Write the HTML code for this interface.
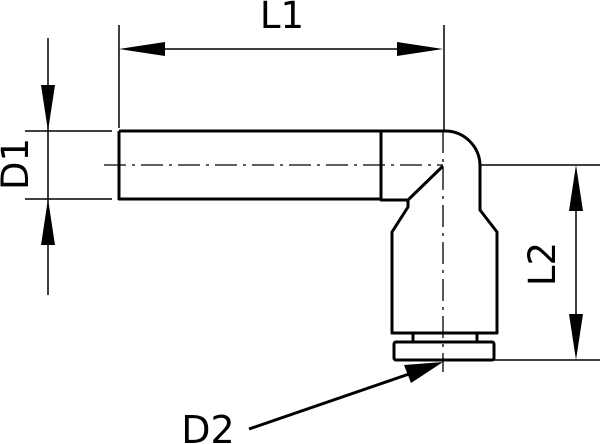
<!DOCTYPE html>
<html><head><style>
html,body{margin:0;padding:0;background:#fff;}
svg{display:block;}
text{font-family:"DejaVu Sans","Liberation Sans",sans-serif;fill:#000;}
</style></head><body>
<svg width="600" height="444" viewBox="0 0 600 444" xmlns="http://www.w3.org/2000/svg">
<g fill="none" stroke="#000" stroke-width="1.5">
 <line x1="119" y1="25" x2="119" y2="128"/>
 <line x1="444" y1="25" x2="444" y2="131"/>
 <line x1="160" y1="49" x2="400" y2="49"/>
 <line x1="25" y1="131" x2="112" y2="131"/>
 <line x1="25" y1="199" x2="112" y2="199"/>
 <line x1="48" y1="38" x2="48" y2="295"/>
 <line x1="480" y1="165" x2="600" y2="165"/>
 <line x1="494" y1="360" x2="600" y2="360"/>
 <line x1="576" y1="200" x2="576" y2="330"/>
</g>
<g fill="#000">
 <polygon points="119,49 165,42 165,56"/>
 <polygon points="443,49 397,42 397,56"/>
 <polygon points="48,131 41,85 55,85"/>
 <polygon points="48,199 41,245 55,245"/>
 <polygon points="576,165 569,211 583,211"/>
 <polygon points="576,360 569,314 583,314"/>
 <polygon points="443,362 404,365 411,383"/>
</g>
<g fill="none" stroke="#000" stroke-width="3" stroke-linejoin="round">
 <path d="M119,131 H445 A35,35 0 0 1 480,166 V210 L497,232 V333 H392 V232 L408,207 V200 H381 V131"/>
 <path d="M119,131 V199 H381"/>
 <line x1="408" y1="200" x2="443" y2="166"/>
 <line x1="413" y1="333" x2="413" y2="342"/>
 <line x1="477" y1="333" x2="477" y2="342"/>
 <rect x="394" y="342" width="100" height="18" rx="2"/>
 <line x1="249" y1="429" x2="412" y2="373"/>
</g>
<g fill="none" stroke="#000" stroke-width="1.3" stroke-dasharray="22,6,3,6">
 <line x1="104" y1="165" x2="443" y2="165"/>
 <line x1="443" y1="131" x2="443" y2="372"/>
</g>
<text x="282" y="28" font-size="37" text-anchor="middle">L1</text>
<text transform="translate(28,164) rotate(-90)" font-size="37" text-anchor="middle">D1</text>
<text transform="translate(555,264) rotate(-90)" font-size="37" text-anchor="middle">L2</text>
<text x="208" y="443" font-size="38" text-anchor="middle">D2</text>
</svg>
</body></html>
